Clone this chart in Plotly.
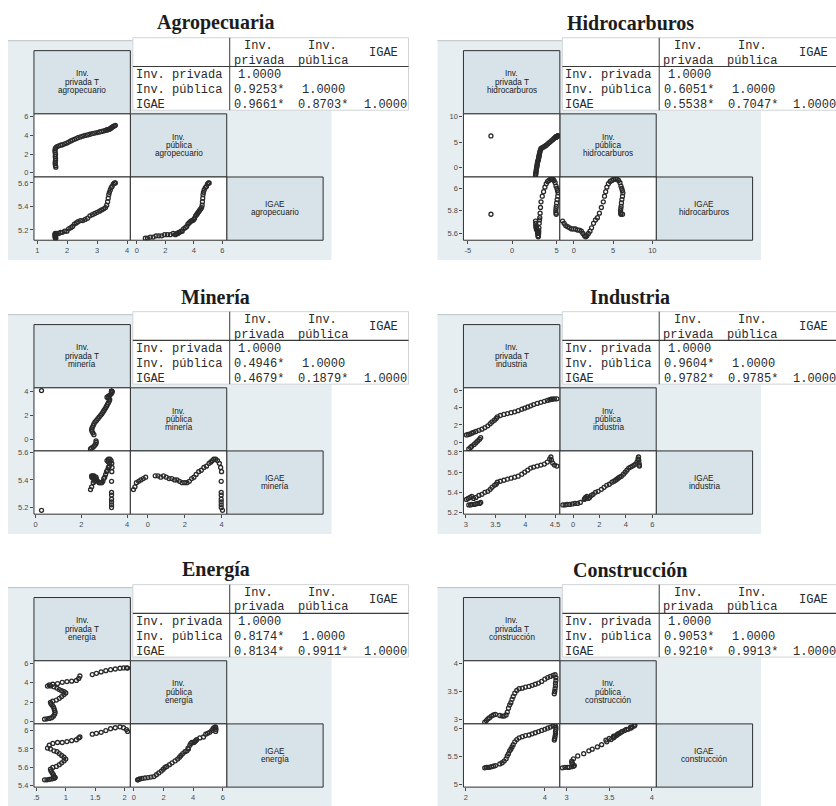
import plotly.graph_objects as go

# ---------------- data ----------------
titles = ["Agropecuaria", "Hidrocarburos", "Minería", "Industria", "Energía", "Construcción"]
sector_tags = ["agropecuario", "hidrocarburos", "minería", "industria", "energía", "construcción"]
row_labels = ["Inv. privada", "Inv. pública", "IGAE"]

# Agropecuaria
agro_priv = [1.62, 1.61, 1.60, 1.60, 1.61, 1.61, 1.60, 1.61, 1.60, 1.59,
             1.60, 1.62, 1.66, 1.72, 1.78, 1.84, 1.92, 1.99, 2.05, 2.12,
             2.18, 2.24, 2.30, 2.36, 2.44, 2.52, 2.60, 2.68, 2.76, 2.84,
             2.92, 3.00, 3.08, 3.15, 3.22, 3.28, 3.32, 3.35, 3.37, 3.39,
             3.41, 3.44, 3.47, 3.50, 3.54, 3.58, 3.61]
agro_pub = [0.60, 0.75, 0.95, 1.15, 1.35, 1.55, 1.75, 1.95, 2.15, 2.35,
            2.55, 2.70, 2.80, 2.88, 2.95, 3.00, 3.10, 3.18, 3.28, 3.40,
            3.50, 3.58, 3.66, 3.75, 3.84, 3.92, 3.99, 4.05, 4.12, 4.19,
            4.25, 4.30, 4.36, 4.42, 4.48, 4.54, 4.58, 4.60, 4.62, 4.64,
            4.67, 4.72, 4.80, 4.88, 4.95, 5.02, 5.07]
agro_igae = [5.13, 5.13, 5.14, 5.14, 5.15, 5.15, 5.15, 5.16, 5.16, 5.16,
             5.17, 5.16, 5.17, 5.17, 5.18, 5.18, 5.19, 5.19, 5.21, 5.22,
             5.23, 5.25, 5.26, 5.27, 5.28, 5.28, 5.29, 5.30, 5.32, 5.33,
             5.34, 5.35, 5.36, 5.37, 5.38, 5.39, 5.41, 5.44, 5.47, 5.50,
             5.52, 5.54, 5.56, 5.57, 5.59, 5.60, 5.60]

# Hidrocarburos
hid_priv = [2.64, 2.66, 2.68, 2.70, 2.72, 2.74, 2.76, 2.79, 2.81, 2.84,
            2.86, 2.88, 2.92, 2.95, 2.97, 2.99, 3.01, 3.03, 3.06, 3.09,
            3.12, 3.16, 3.20, 3.26, 3.40, 3.55, 3.70, 3.85, 4.00, 4.15,
            4.30, 4.45, 4.60, 4.72, 4.85, 4.95, 5.05, 5.12, 5.18, 5.15,
            5.08, 5.02, 4.98, 4.95, 4.93, 4.95, 4.97, -2.38]
hid_pub = [-1.45, -1.25, -1.05, -0.80, -0.55, -0.30, -0.05, 0.20, 0.45, 0.70,
           0.95, 1.15, 1.35, 1.50, 1.65, 1.85, 2.05, 2.25, 2.50, 2.75,
           3.00, 3.25, 3.50, 3.75, 3.90, 4.05, 4.20, 4.40, 4.62, 4.85,
           5.05, 5.30, 5.50, 5.70, 5.88, 6.00, 6.10, 6.18, 6.25, 6.20,
           6.12, 6.06, 6.02, 5.98, 5.95, 5.97, 6.00, 6.20]
hid_igae = [5.71, 5.69, 5.67, 5.66, 5.65, 5.64, 5.64, 5.64, 5.63, 5.63,
            5.62, 5.60, 5.58, 5.57, 5.58, 5.60, 5.62, 5.65, 5.69, 5.72,
            5.74, 5.78, 5.83, 5.88, 5.93, 5.97, 6.01, 6.04, 6.06, 6.07,
            6.08, 6.08, 6.08, 6.07, 6.05, 6.02, 6.00, 5.98, 5.96, 5.93,
            5.90, 5.87, 5.84, 5.82, 5.80, 5.78, 5.77, 5.77]

# Minería
min_priv = [2.40, 2.45, 2.52, 2.58, 2.63, 2.65, 2.64, 2.55, 2.50, 2.46,
            2.45, 2.48, 2.52, 2.55, 2.60, 2.66, 2.72, 2.78, 2.84, 2.89,
            2.94, 2.98, 3.02, 3.06, 3.10, 3.14, 3.18, 3.22, 3.24, 3.18,
            3.12, 3.18, 3.25, 3.30, 3.33, 3.34, 3.33, 3.32, 3.32, 3.32,
            3.32, 3.32, 3.32, 3.32, 0.26]
min_pub = [-0.78, -0.70, -0.62, -0.50, -0.38, -0.25, -0.12, 0.40, 0.55, 0.70,
           0.85, 1.00, 1.15, 1.30, 1.45, 1.58, 1.72, 1.86, 2.00, 2.12,
           2.25, 2.38, 2.50, 2.62, 2.76, 2.90, 3.04, 3.18, 3.32, 3.42,
           3.50, 3.58, 3.68, 3.78, 3.88, 3.95, 4.00, 3.98, 3.98, 3.98,
           3.98, 3.98, 3.98, 3.98, 4.05]
min_igae = [5.33, 5.35, 5.38, 5.39, 5.40, 5.41, 5.42, 5.43, 5.43, 5.42,
            5.43, 5.42, 5.41, 5.41, 5.40, 5.40, 5.39, 5.38, 5.38, 5.38,
            5.39, 5.41, 5.42, 5.44, 5.46, 5.47, 5.49, 5.50, 5.52, 5.53,
            5.54, 5.55, 5.55, 5.54, 5.52, 5.49, 5.46, 5.39, 5.31, 5.29,
            5.26, 5.24, 5.22, 5.20, 5.18]

# Industria
ind_priv = [3.05, 3.08, 3.10, 3.14, 3.17, 3.20, 3.23, 3.25, 3.01, 3.04,
            3.07, 3.10, 3.13, 3.17, 3.22, 3.27, 3.32, 3.37, 3.41, 3.44,
            3.48, 3.51, 3.53, 3.58, 3.64, 3.70, 3.76, 3.82, 3.88, 3.94,
            3.99, 4.04, 4.09, 4.14, 4.20, 4.26, 4.32, 4.37, 4.41, 4.43,
            4.44, 4.46, 4.49, 4.53]
ind_pub = [-0.77, -0.60, -0.45, -0.25, -0.05, 0.15, 0.35, 0.55, 0.85, 0.90,
           0.95, 1.05, 1.15, 1.25, 1.38, 1.52, 1.70, 1.90, 2.15, 2.35,
           2.55, 2.75, 2.95, 3.10, 3.22, 3.32, 3.42, 3.52, 3.66, 3.82,
           3.95, 4.08, 4.22, 4.36, 4.50, 4.62, 4.74, 4.84, 4.92, 4.96,
           4.98, 5.00, 5.02, 5.03]
ind_igae = [5.275, 5.275, 5.28, 5.28, 5.285, 5.29, 5.29, 5.30, 5.33, 5.34,
            5.35, 5.36, 5.34, 5.35, 5.37, 5.38, 5.40, 5.41, 5.43, 5.45,
            5.47, 5.48, 5.50, 5.51, 5.52, 5.53, 5.54, 5.55, 5.56, 5.58,
            5.60, 5.62, 5.64, 5.65, 5.66, 5.67, 5.68, 5.70, 5.73, 5.75,
            5.72, 5.69, 5.67, 5.66]

# Energía
ene_priv = [0.64, 0.68, 0.72, 0.76, 0.79, 0.81, 0.82, 0.81, 0.80, 0.79,
            0.77, 0.75, 0.74, 0.78, 0.84, 0.89, 0.93, 0.97, 1.00, 0.97,
            0.93, 0.89, 0.85, 0.80, 0.74, 0.69, 0.72, 0.78, 0.86, 0.94,
            1.02, 1.10, 1.18, 1.22, 1.24, 1.45, 1.52, 1.60, 1.68, 1.76,
            1.84, 1.92, 1.98, 2.03, 2.05]
ene_pub = [0.25, 0.28, 0.32, 0.40, 0.55, 0.75, 0.95, 1.15, 1.35, 1.52,
           1.68, 1.85, 1.98, 2.10, 2.22, 2.40, 2.58, 2.78, 2.95, 3.08,
           3.18, 3.30, 3.45, 3.58, 3.68, 3.66, 3.78, 3.85, 3.92, 4.05,
           4.12, 4.17, 4.24, 4.45, 4.70, 4.85, 4.98, 5.12, 5.25, 5.35,
           5.42, 5.50, 5.53, 5.54, 5.52]
ene_igae = [5.465, 5.465, 5.47, 5.475, 5.48, 5.485, 5.49, 5.495, 5.50, 5.52,
            5.54, 5.56, 5.58, 5.60, 5.61, 5.63, 5.65, 5.67, 5.69, 5.71,
            5.73, 5.75, 5.77, 5.78, 5.80, 5.81, 5.84, 5.86, 5.87, 5.87,
            5.88, 5.89, 5.90, 5.92, 5.93, 5.96, 5.97, 5.98, 6.00, 6.02,
            6.03, 6.04, 6.03, 6.01, 5.99]

# Construcción
con_priv = [2.48, 2.52, 2.56, 2.60, 2.65, 2.70, 2.75, 2.86, 2.92, 2.97,
            3.02, 3.05, 3.08, 3.11, 3.14, 3.17, 3.20, 3.24, 3.29, 3.35,
            3.43, 3.51, 3.60, 3.68, 3.76, 3.84, 3.92, 4.00, 4.07, 4.14,
            4.21, 4.26, 4.28, 4.28, 4.27, 4.27, 4.26, 4.25, 4.24]
con_pub = [2.95, 2.98, 3.01, 3.03, 3.06, 3.08, 3.09, 3.07, 3.06, 3.06,
           3.08, 3.13, 3.20, 3.26, 3.30, 3.36, 3.41, 3.47, 3.52, 3.55,
           3.56, 3.58, 3.59, 3.61, 3.63, 3.65, 3.68, 3.72, 3.75, 3.77,
           3.79, 3.80, 3.75, 3.70, 3.65, 3.60, 3.55, 3.50, 3.46]
con_igae = [5.30, 5.31, 5.31, 5.31, 5.32, 5.33, 5.34, 5.37, 5.39, 5.42,
            5.46, 5.51, 5.55, 5.60, 5.63, 5.67, 5.71, 5.76, 5.80, 5.83,
            5.85, 5.87, 5.88, 5.90, 5.92, 5.94, 5.96, 5.98, 6.00, 6.02,
            6.04, 6.05, 6.02, 5.98, 5.94, 5.90, 5.86, 5.82, 5.79]

# pairwise correlations (lower triangle)
corr_agro = [["1.0000"], ["0.9253*", "1.0000"], ["0.9661*", "0.8703*", "1.0000"]]
corr_hid = [["1.0000"], ["0.6051*", "1.0000"], ["0.5538*", "0.7047*", "1.0000"]]
corr_min = [["1.0000"], ["0.4946*", "1.0000"], ["0.4679*", "0.1879*", "1.0000"]]
corr_ind = [["1.0000"], ["0.9604*", "1.0000"], ["0.9782*", "0.9785*", "1.0000"]]
corr_ene = [["1.0000"], ["0.8174*", "1.0000"], ["0.8134*", "0.9911*", "1.0000"]]
corr_con = [["1.0000"], ["0.9053*", "1.0000"], ["0.9210*", "0.9913*", "1.0000"]]

# tick values and labels: (priv, pub, igae)
agro_tickvals = ([1, 2, 3, 4], [0, 2, 4, 6], [5.2, 5.4, 5.6])
agro_ticktext = (["1", "2", "3", "4"], ["0", "2", "4", "6"], ["5.2", "5.4", "5.6"])
hid_tickvals = ([-5, 0, 5], [0, 5, 10], [5.6, 5.8, 6])
hid_ticktext = (["-5", "0", "5"], ["0", "5", "10"], ["5.6", "5.8", "6"])
min_tickvals = ([0, 2, 4], [0, 2, 4], [5.2, 5.4, 5.6])
min_ticktext = (["0", "2", "4"], ["0", "2", "4"], ["5.2", "5.4", "5.6"])
ind_tickvals = ([3, 3.5, 4, 4.5], [0, 2, 4, 6], [5.2, 5.4, 5.6, 5.8])
ind_ticktext = (["3", "3.5", "4", "4.5"], ["0", "2", "4", "6"], ["5.2", "5.4", "5.6", "5.8"])
ene_tickvals = ([0.5, 1, 1.5, 2], [0, 2, 4, 6], [5.4, 5.6, 5.8, 6])
ene_ticktext = ([".5", "1", "1.5", "2"], ["0", "2", "4", "6"], ["5.4", "5.6", "5.8", "6"])
con_tickvals = ([2, 4], [3, 3.5, 4], [5, 5.5, 6])
con_ticktext = (["2", "4"], ["3", "3.5", "4"], ["5", "5.5", "6"])

# ---------------- layout helpers ----------------
W, H = 836, 806


def fx(x):
    return x / W


def fy(y):
    return 1 - y / H


COL_OFF = [0, 430]
ROW_OFF = [0, 276, 551]
TITLE_X = [215, 630]
XE = [33, 129.5, 226, 322.5]
YE = [48, 111.7, 175.3, 239]

BG = "#e7eef1"
DIAG = "#d7e3e9"
EDGE = "#2f2f2f"
INK = "#2a2a2a"
TICK = "#4a4a4a"
MONO = "Liberation Mono, Courier New, monospace"
SANS = "Liberation Sans, Arial, sans-serif"
SERIF = "Liberation Serif, Times New Roman, serif"

sectors = [
    dict(data=(agro_priv, agro_pub, agro_igae), corr=corr_agro,
         tv=agro_tickvals, tt=agro_ticktext,
         rng=([0.89, 4.11], [-0.45, 6.3], [5.113, 5.65])),
    dict(data=(hid_priv, hid_pub, hid_igae), corr=corr_hid,
         tv=hid_tickvals, tt=hid_ticktext,
         rng=([-5.48, 5.38], [-1.8, 10.5], [5.54, 6.1])),
    dict(data=(min_priv, min_pub, min_igae), corr=corr_min,
         tv=min_tickvals, tt=min_ticktext,
         rng=([-0.07, 4.14], [-0.95, 4.28], [5.152, 5.61])),
    dict(data=(ind_priv, ind_pub, ind_igae), corr=corr_ind,
         tv=ind_tickvals, tt=ind_ticktext,
         rng=([2.96, 4.58], [-1.0, 6.3], [5.184, 5.81])),
    dict(data=(ene_priv, ene_pub, ene_igae), corr=corr_ene,
         tv=ene_tickvals, tt=ene_ticktext,
         rng=([0.46, 2.096], [-0.24, 6.27], [5.386, 6.072])),
    dict(data=(con_priv, con_pub, con_igae), corr=corr_con,
         tv=con_tickvals, tt=con_ticktext,
         rng=([1.94, 4.38], [2.92, 4.05], [4.96, 6.076])),
]

shapes = []
annos = []
axes = {}
fig = go.Figure()


def rect(x0, y0, x1, y1, fill, line=None, width=1):
    shapes.append(dict(type="rect", xref="paper", yref="paper", layer="below",
                       x0=fx(x0), x1=fx(x1), y0=fy(y1), y1=fy(y0),
                       fillcolor=fill,
                       line=dict(color=line if line else "rgba(0,0,0,0)",
                                 width=width if line else 0)))


def seg(x0, y0, x1, y1, color, width=1):
    shapes.append(dict(type="line", xref="paper", yref="paper", layer="below",
                       x0=fx(x0), x1=fx(x1), y0=fy(y0), y1=fy(y1),
                       line=dict(color=color, width=width)))


def label(x, y, s, size, family, color=INK, xanchor="center"):
    annos.append(dict(x=fx(x), y=fy(y), xref="paper", yref="paper", text=s,
                      showarrow=False, xanchor=xanchor, yanchor="middle",
                      borderpad=0,
                      font=dict(size=size, family=family, color=color)))


n = 0
for k, s in enumerate(sectors):
    ox = COL_OFF[k % 2]
    oy = ROW_OFF[k // 2]
    tag = sector_tags[k]

    label(TITLE_X[k % 2], oy + 20, "<b>%s</b>" % titles[k], 20, SERIF, "#1c1c1c")

    # panel background
    rect(ox + 7, oy + 38, ox + 331, oy + 259, BG)
    seg(ox + 7, oy + 38, ox + 132, oy + 38, "#b8c0c4", 1)

    # correlation table
    rect(ox + 132, oy + 35, ox + 408, oy + 108, "white", "#d0d4d6", 1)
    seg(ox + 229, oy + 35, ox + 229, oy + 108, "#3a3a3a", 1)
    seg(ox + 132, oy + 64, ox + 408, oy + 64, "#3a3a3a", 1.2)
    label(ox + 258, oy + 43, "Inv.", 12, MONO)
    label(ox + 258, oy + 58, "privada", 12, MONO)
    label(ox + 322, oy + 43, "Inv.", 12, MONO)
    label(ox + 322, oy + 58, "pública", 12, MONO)
    label(ox + 383, oy + 50, "IGAE", 12, MONO)
    col_x = [232.5, 296.8, 358]
    for i, rl in enumerate(row_labels):
        ry = oy + 72.5 + 15 * i
        label(ox + 134, ry, rl, 12, MONO, xanchor="left")
        for j, v in enumerate(s["corr"][i]):
            vx = ox + col_x[j] + (0 if v.endswith("*") else 4)
            label(vx, ry, v, 12, MONO, xanchor="left")

    # diagonal cells with variable names
    diag_lines = [["Inv.", "privada T", tag], ["Inv.", "pública", tag], ["IGAE", tag]]
    for d in range(3):
        rect(ox + XE[d], oy + YE[d], ox + XE[d + 1], oy + YE[d + 1], DIAG, EDGE, 1)
        cy = oy + (YE[d] + YE[d + 1]) / 2
        lines = diag_lines[d]
        for i, t in enumerate(lines):
            ly = cy + (i - (len(lines) - 1) / 2) * 8.4
            label(ox + (XE[d] + XE[d + 1]) / 2, ly, t, 8.2, SANS, "#1a1a1a")

    # scatter cells: (row, col, x variable, y variable)
    for (r, c, xv, yv) in [(1, 0, 0, 1), (2, 0, 0, 2), (2, 1, 1, 2)]:
        rect(ox + XE[c], oy + YE[r], ox + XE[c + 1], oy + YE[r + 1], "white", EDGE, 1)
        n += 1
        xa = "x" if n == 1 else "x%d" % n
        ya = "y" if n == 1 else "y%d" % n
        show_x = (r == 2)
        show_y = (c == 0)
        common = dict(showgrid=False, zeroline=False, showline=False,
                      ticklen=3, tickwidth=1, tickcolor=TICK,
                      tickfont=dict(size=7.5, family=SANS, color=TICK),
                      fixedrange=True)
        axes["xaxis" if n == 1 else "xaxis%d" % n] = dict(
            domain=[fx(ox + XE[c]), fx(ox + XE[c + 1])],
            range=s["rng"][xv], tickvals=s["tv"][xv], ticktext=s["tt"][xv],
            ticks="outside" if show_x else "", showticklabels=show_x,
            anchor=ya, **common)
        axes["yaxis" if n == 1 else "yaxis%d" % n] = dict(
            domain=[fy(oy + YE[r + 1]), fy(oy + YE[r])],
            range=s["rng"][yv], tickvals=s["tv"][yv], ticktext=s["tt"][yv],
            ticks="outside" if show_y else "", showticklabels=show_y,
            anchor=xa, **common)
        fig.add_trace(go.Scatter(
            x=s["data"][xv], y=s["data"][yv], xaxis=xa, yaxis=ya,
            mode="markers", hoverinfo="skip", showlegend=False,
            marker=dict(symbol="circle-open", size=4, color="#2a2a2a",
                        line=dict(width=1.3))))

fig.update_layout(
    width=W, height=H, autosize=False,
    margin=dict(l=0, r=0, t=0, b=0),
    paper_bgcolor="white", plot_bgcolor="rgba(0,0,0,0)",
    showlegend=False, shapes=shapes, annotations=annos, **axes)

fig.write_html("out.html")
